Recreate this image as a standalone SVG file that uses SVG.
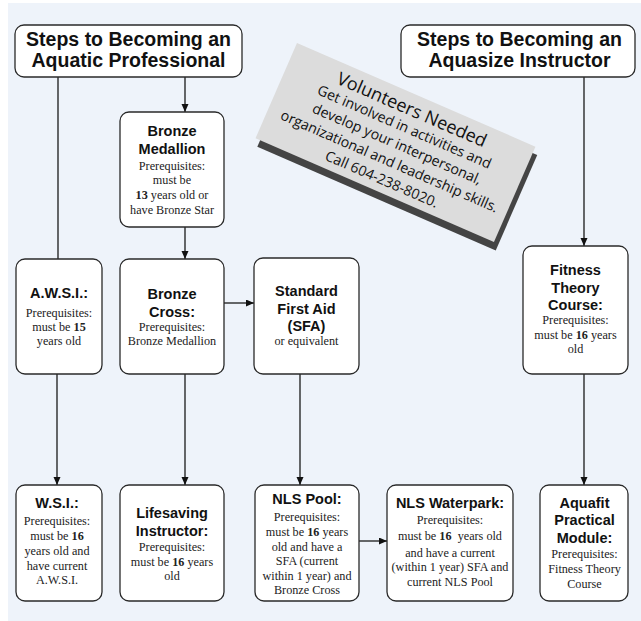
<svg xmlns="http://www.w3.org/2000/svg" width="641" height="621" viewBox="0 0 641 621">
<defs>
<marker id="ah" markerWidth="8" markerHeight="8" refX="8" refY="3.5" orient="auto" markerUnits="userSpaceOnUse">
<path d="M0,0 L8,3.5 L0,7 z" fill="#111"/>
</marker>
<style>
.box{fill:#fff;stroke:#2a2a2a;stroke-width:1.3}
.hd{font-family:"Liberation Sans",Arial,sans-serif;font-weight:bold;font-size:19.5px;fill:#111;text-anchor:middle}
.t{font-family:"Liberation Sans",Arial,sans-serif;font-weight:bold;font-size:14.5px;fill:#111;text-anchor:middle}
.b{font-family:"Liberation Serif","Times New Roman",serif;font-size:12.2px;fill:#222;text-anchor:middle}
.b tspan.n{font-weight:bold}
.con line{stroke:#1a1a1a;stroke-width:1.3;fill:none}
.nt{font-family:"Open Sans","Noto Sans",sans-serif;fill:#111;text-anchor:middle}
</style>
</defs>
<rect x="8" y="3" width="633" height="618" fill="#eef3fa"/>

<g id="note" transform="translate(297,43) rotate(23.5)">
<rect x="5" y="7" width="260" height="104" fill="#444"/>
<rect x="0" y="0" width="260" height="104" fill="#dcdcdc"/>
<text class="nt" x="132" y="21.5" font-size="18">Volunteers Needed</text>
<text class="nt" x="132" y="39" font-size="14.2">Get involved in activities and</text>
<text class="nt" x="132" y="57.5" font-size="14.2">develop your interpersonal,</text>
<text class="nt" x="132" y="76.5" font-size="14.2">organizational and leadership skills.</text>
<text class="nt" x="132" y="96" font-size="14.2">Call 604-238-8020.</text>
</g>

<g id="connectors" class="con">
<line x1="58" y1="77" x2="58" y2="259"/>
<line x1="185" y1="77" x2="185" y2="112" marker-end="url(#ah)"/>
<line x1="185" y1="227" x2="185" y2="259" marker-end="url(#ah)"/>
<line x1="224" y1="303" x2="254" y2="303" marker-end="url(#ah)"/>
<line x1="57" y1="374" x2="57" y2="485" marker-end="url(#ah)"/>
<line x1="185" y1="374" x2="185" y2="485" marker-end="url(#ah)"/>
<line x1="300" y1="374" x2="300" y2="485" marker-end="url(#ah)"/>
<line x1="359" y1="541" x2="387" y2="541" marker-end="url(#ah)"/>
<line x1="584" y1="77" x2="584" y2="246" marker-end="url(#ah)"/>
<line x1="584" y1="374" x2="584" y2="485" marker-end="url(#ah)"/>
</g>

<g id="title-aquatic">
<rect class="box" x="15" y="25" width="227" height="52" rx="9"/>
<text class="hd" x="128.5" y="46">Steps to Becoming an</text>
<text class="hd" x="128.5" y="67">Aquatic Professional</text>
</g>

<g id="title-aquasize">
<rect class="box" x="401" y="25" width="234" height="52" rx="9"/>
<text class="hd" x="519.5" y="46">Steps to Becoming an</text>
<text class="hd" x="519.5" y="67">Aquasize Instructor</text>
</g>

<g id="bronze-medallion">
<rect class="box" x="120" y="112" width="104" height="115" rx="9"/>
<text class="t" x="172" y="136">Bronze</text>
<text class="t" x="172" y="154">Medallion</text>
<text class="b" x="172" y="169.5">Prerequisites:</text>
<text class="b" x="172" y="183.5">must be</text>
<text class="b" x="172" y="199"><tspan class="n">13</tspan> years old or</text>
<text class="b" x="172" y="213.5">have Bronze Star</text>
</g>

<g id="awsi">
<rect class="box" x="16" y="259" width="86" height="115" rx="9"/>
<text class="t" x="59" y="298">A.W.S.I.:</text>
<text class="b" x="59" y="317">Prerequisites:</text>
<text class="b" x="59" y="331"><tspan>must be </tspan><tspan class="n">15</tspan></text>
<text class="b" x="59" y="344.5">years old</text>
</g>

<g id="bronze-cross">
<rect class="box" x="120" y="259" width="104" height="115" rx="9"/>
<text class="t" x="172" y="299">Bronze</text>
<text class="t" x="172" y="316.5">Cross:</text>
<text class="b" x="172" y="331">Prerequisites:</text>
<text class="b" x="172" y="344.5">Bronze Medallion</text>
</g>

<g id="sfa">
<rect class="box" x="254" y="258" width="105" height="116" rx="9"/>
<text class="t" x="306.5" y="296">Standard</text>
<text class="t" x="306.5" y="314">First Aid</text>
<text class="t" x="306.5" y="331">(SFA)</text>
<text class="b" x="306.5" y="345">or equivalent</text>
</g>

<g id="fitness-theory">
<rect class="box" x="523" y="246" width="105" height="128" rx="9"/>
<text class="t" x="575.5" y="275">Fitness</text>
<text class="t" x="575.5" y="292.5">Theory</text>
<text class="t" x="575.5" y="310">Course:</text>
<text class="b" x="575.5" y="324">Prerequisites:</text>
<text class="b" x="575.5" y="338.5">must be <tspan class="n">16</tspan> years</text>
<text class="b" x="575.5" y="352.5">old</text>
</g>

<g id="wsi">
<rect class="box" x="16" y="485" width="86" height="116" rx="9"/>
<text class="t" x="57" y="508">W.S.I.:</text>
<text class="b" x="57" y="524.5">Prerequisites:</text>
<text class="b" x="57" y="540">must be <tspan class="n">16</tspan></text>
<text class="b" x="57" y="555">years old and</text>
<text class="b" x="57" y="569.5">have current</text>
<text class="b" x="57" y="583.5">A.W.S.I.</text>
</g>

<g id="lifesaving-instructor">
<rect class="box" x="120" y="485" width="104" height="116" rx="9"/>
<text class="t" x="172" y="518">Lifesaving</text>
<text class="t" x="172" y="536">Instructor:</text>
<text class="b" x="172" y="551">Prerequisites:</text>
<text class="b" x="172" y="565.5">must be <tspan class="n">16</tspan> years</text>
<text class="b" x="172" y="580">old</text>
</g>

<g id="nls-pool">
<rect class="box" x="255" y="485" width="104" height="116" rx="9"/>
<text class="t" x="307" y="503.5">NLS Pool:</text>
<text class="b" x="307" y="520.5">Prerequisites:</text>
<text class="b" x="307" y="535.5">must be <tspan class="n">16</tspan> years</text>
<text class="b" x="307" y="550.5">old and have a</text>
<text class="b" x="307" y="565">SFA (current</text>
<text class="b" x="307" y="579.5">within 1 year) and</text>
<text class="b" x="307" y="594">Bronze Cross</text>
</g>

<g id="nls-waterpark">
<rect class="box" x="387" y="485" width="126" height="116" rx="9"/>
<text class="t" x="450" y="508" font-size="15">NLS Waterpark:</text>
<text class="b" x="450" y="524">Prerequisites:</text>
<text class="b" x="450" y="540" xml:space="preserve">must be <tspan class="n">16</tspan>  years old</text>
<text class="b" x="450" y="556.5">and have a current</text>
<text class="b" x="450" y="571">(within 1 year) SFA and</text>
<text class="b" x="450" y="585.5">current NLS Pool</text>
</g>

<g id="aquafit-module">
<rect class="box" x="540" y="485" width="88" height="116" rx="9"/>
<text class="t" x="584.5" y="507.5">Aquafit</text>
<text class="t" x="584.5" y="525">Practical</text>
<text class="t" x="584.5" y="543">Module:</text>
<text class="b" x="584.5" y="558">Prerequisites:</text>
<text class="b" x="584.5" y="572.5">Fitness Theory</text>
<text class="b" x="584.5" y="587.5">Course</text>
</g>
</svg>
